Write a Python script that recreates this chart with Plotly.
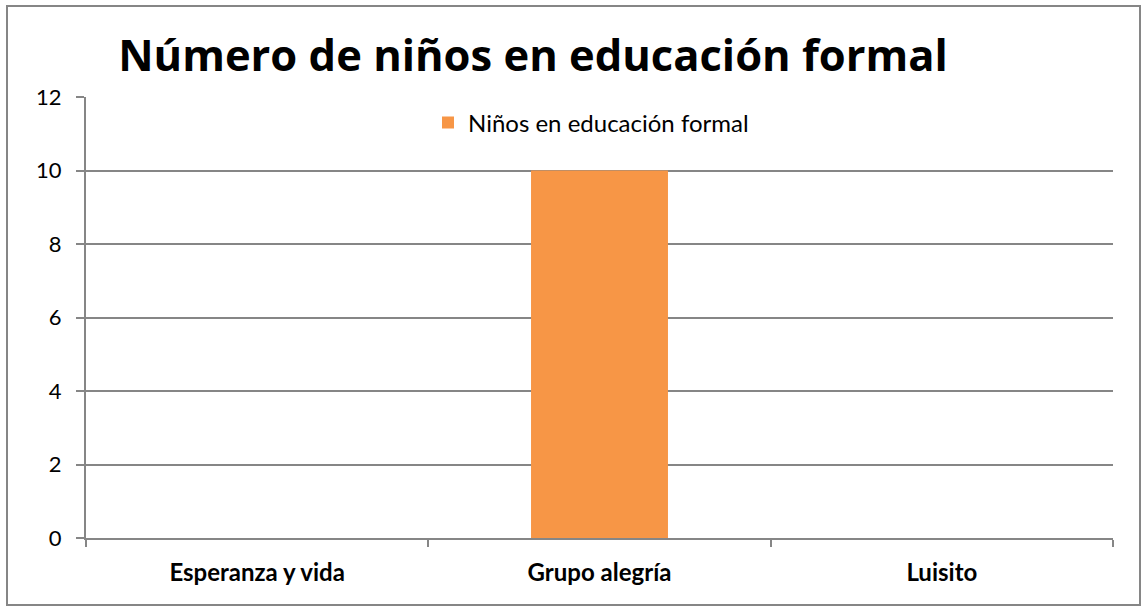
import plotly.graph_objects as go

# Chart data
categories = ["Esperanza y vida", "Grupo alegría", "Luisito"]
ninos_educacion_formal = [0, 10, 0]
series_name = "Niños en educación formal"
y_ticks = [0, 2, 4, 6, 8, 10, 12]

W, H = 1147, 611
L, R, T, B = 86, 34, 97, 73
plot_w = W - L - R
plot_h = H - T - B

grid_color = "#868686"
font_family = "Lato, Carlito, Calibri, sans-serif"
title_family = "Open Sans, Lato, sans-serif"

fig = go.Figure()
fig.add_trace(go.Bar(
    x=categories,
    y=ninos_educacion_formal,
    name=series_name,
    marker=dict(color="#F79646", line=dict(width=0)),
    width=0.4,
    showlegend=True,
))

fig.update_layout(
    width=W,
    height=H,
    margin=dict(l=L, r=R, t=T, b=B),
    paper_bgcolor="white",
    plot_bgcolor="white",
    font=dict(family=font_family, color="black"),
    title=dict(
        text="<b>Número de niños en educación formal</b>",
        x=(533 - L) / plot_w, xref="paper", xanchor="center",
        y=1 - 56 / H, yref="container", yanchor="middle",
        font=dict(size=43.5, family=title_family, color="black"),
    ),
    legend=dict(
        x=(428 - L) / plot_w, xanchor="left",
        y=1 - (123 - T) / plot_h, yanchor="middle",
        xref="paper", yref="paper",
        bgcolor="rgba(0,0,0,0)",
        font=dict(size=24, family=font_family, color="black"),
        itemwidth=30,
    ),
    bargap=0.6,
)

fig.update_xaxes(
    type="category",
    showline=True, linecolor=grid_color, linewidth=2,
    ticks="outside", tickson="boundaries", ticklen=7, tickcolor=grid_color, tickwidth=2,
    showgrid=False,
    tickfont=dict(size=24, family=font_family, color="black", weight="bold"),
    ticklabelstandoff=12,
)

fig.update_yaxes(
    range=[0, 12],
    tickvals=y_ticks,
    showline=True, linecolor=grid_color, linewidth=2,
    ticks="outside", ticklen=8, tickcolor=grid_color, tickwidth=2,
    showgrid=True, gridcolor=grid_color, gridwidth=2,
    zeroline=False,
    tickfont=dict(size=22, family=font_family, color="black"),
    ticklabelstandoff=10,
)

# Outer chart frame
fig.add_shape(
    type="rect", xref="paper", yref="paper",
    x0=(7 - L) / plot_w, x1=(1140 - L) / plot_w,
    y0=(H - B - 605) / plot_h, y1=(H - B - 6) / plot_h,
    line=dict(color="#868686", width=2), fillcolor="rgba(0,0,0,0)",
    layer="below",
)

fig.write_html("out.html")
